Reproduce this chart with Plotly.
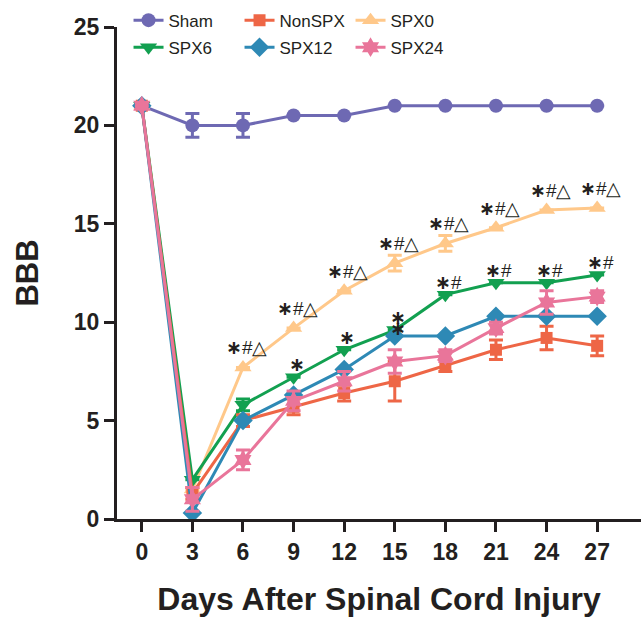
import plotly.graph_objects as go

days = [0, 3, 6, 9, 12, 15, 18, 21, 24, 27]

sham = [21, 20, 20, 20.5, 20.5, 21, 21, 21, 21, 21]
sham_err = [0, 0.6, 0.6, 0, 0, 0, 0, 0, 0, 0]
nonspx = [21, 1.3, 5.0, 5.7, 6.4, 7.0, 7.8, 8.6, 9.2, 8.8]
nonspx_err = [0, 0.3, 0.3, 0.4, 0.4, 1.0, 0.3, 0.5, 0.6, 0.5]
spx0 = [21, 1.5, 7.7, 9.7, 11.6, 13.0, 14.0, 14.8, 15.7, 15.8]
spx0_err = [0, 0, 0, 0, 0, 0.4, 0.4, 0, 0, 0]
spx6 = [21, 2.0, 5.8, 7.2, 8.6, 9.6, 11.4, 12.0, 12.0, 12.4]
spx6_err = [0, 0, 0.3, 0, 0, 0, 0, 0, 0, 0]
spx12 = [21, 0.3, 5.0, 6.3, 7.6, 9.3, 9.3, 10.3, 10.3, 10.3]
spx12_err = [0, 0, 0, 0, 0, 0, 0, 0, 0, 0]
spx24 = [21, 1.0, 3.0, 6.0, 7.0, 8.0, 8.3, 9.7, 11.0, 11.3]
spx24_err = [0, 0.6, 0.5, 0.5, 0.5, 0.6, 0.3, 0.3, 0.6, 0.3]

spx0_marks_days = [6, 9, 12, 15, 18, 21, 24, 27]
spx0_marks = ["*#△"] * 8
spx6_marks_days = [9, 12, 15, 18, 21, 24, 27]
spx6_marks = ["*", "*", "*", "*#", "*#", "*#", "*#"]
spx12_marks_days = [15]
spx12_marks = ["*"]

x_ticks = [0, 3, 6, 9, 12, 15, 18, 21, 24, 27]
y_ticks = [0, 5, 10, 15, 20, 25]

FONT = "Liberation Sans, Arial, sans-serif"
AX = "#231F20"

series = [
    # name, y, err, color, symbol, size, legend, rank
    ("Sham", sham, sham_err, "#6E69B3", "circle", 14, "legend", 1),
    ("SPX0", spx0, spx0_err, "#FFC88A", "triangle-up", 15, "legend", 3),
    ("SPX6", spx6, spx6_err, "#12A050", "triangle-down", 15, "legend2", 4),
    ("NonSPX", nonspx, nonspx_err, "#EE6646", "square", 12, "legend", 2),
    ("SPX12", spx12, spx12_err, "#2E89B5", "diamond", 15, "legend2", 5),
    ("SPX24", spx24, spx24_err, "#E9759A", "hexagram", 15, "legend2", 6),
]

fig = go.Figure()
for name, y, err, color, sym, size, leg, rank in series:
    fig.add_trace(go.Scatter(
        x=days, y=y, name=name, mode="lines+markers",
        line=dict(color=color, width=3),
        marker=dict(color=color, symbol=sym, size=size, line=dict(width=0)),
        error_y=dict(type="data", array=err, symmetric=True, color=color,
                     thickness=3, width=7),
        legend=leg, legendrank=rank, cliponaxis=False,
    ))


def fmt(t):
    return t.replace(
        "*", "<b><span style='font-family:DejaVu Sans;font-size:19px'>∗</span></b>")


ann = []
for d, t in zip(spx0_marks_days, spx0_marks):
    ann.append(dict(x=d, y=spx0[days.index(d)], text=fmt(t), yshift=20, xshift=4))
for d, t in zip(spx6_marks_days, spx6_marks):
    ann.append(dict(x=d, y=spx6[days.index(d)], text=fmt(t),
                    yshift=13, xshift=3))
for d, t in zip(spx12_marks_days, spx12_marks):
    ann.append(dict(x=d, y=spx12[days.index(d)], text=fmt(t), yshift=8, xshift=3))
for a in ann:
    a.update(xref="x", yref="y", showarrow=False,
             font=dict(family=FONT, size=19, color="#231F20"))

fig.update_layout(
    width=641, height=618,
    margin=dict(l=117, r=0, t=27, b=99),
    paper_bgcolor="white", plot_bgcolor="white",
    font=dict(family=FONT, color=AX),
    annotations=ann,
    legend=dict(orientation="h", x=0.022, xanchor="left", y=1.013, yanchor="middle",
                font=dict(family=FONT, size=17, color=AX), itemwidth=30,
                entrywidth=66, bgcolor="rgba(0,0,0,0)", traceorder="normal"),
    legend2=dict(orientation="h", x=0.022, xanchor="left", y=0.958, yanchor="middle",
                 font=dict(family=FONT, size=17, color=AX), itemwidth=30,
                 entrywidth=66, bgcolor="rgba(0,0,0,0)", traceorder="normal"),
    xaxis=dict(range=[-1.47, 29.6], tickvals=x_ticks, ticktext=[str(v) for v in x_ticks],
               showgrid=False, zeroline=False, showline=True, linecolor=AX, linewidth=3,
               ticks="outside", ticklen=10, tickwidth=3, tickcolor=AX,
               tickfont=dict(family=FONT, size=23, color=AX, weight="bold"),
               title=dict(text="Days After Spinal Cord Injury", standoff=25,
                          font=dict(family=FONT, size=32, color=AX, weight="bold"))),
    yaxis=dict(range=[0, 25], tickvals=y_ticks, ticktext=[str(v) for v in y_ticks],
               showgrid=False, zeroline=False, showline=True, linecolor=AX, linewidth=3,
               ticks="outside", ticklen=10, tickwidth=3, tickcolor=AX,
               tickfont=dict(family=FONT, size=23, color=AX, weight="bold"),
               title=dict(text="BBB", standoff=26,
                          font=dict(family=FONT, size=31, color=AX, weight="bold"))),
)

fig.write_html("out.html", config={"displayModeBar": False},
               post_script="document.body.style.margin='0';")
